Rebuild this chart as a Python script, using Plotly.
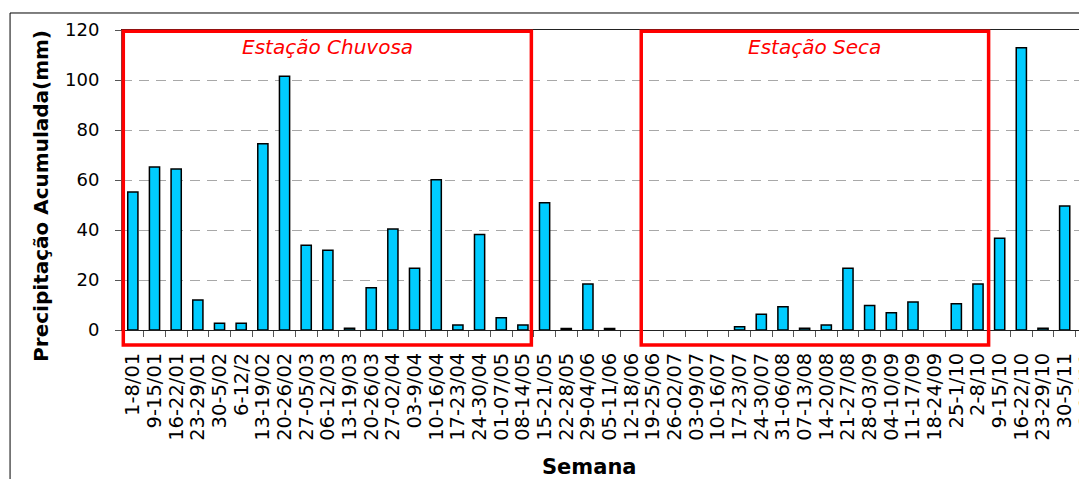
import plotly.graph_objects as go

semanas = [
    "1-8/01", "9-15/01", "16-22/01", "23-29/01", "30-5/02", "6-12/2", "13-19/02",
    "20-26/02", "27-05/03", "06-12/03", "13-19/03", "20-26/03", "27-02/04",
    "03-9/04", "10-16/04", "17-23/04", "24-30/04", "01-07/05", "08-14/05",
    "15-21/05", "22-28/05", "29-04/06", "05-11/06", "12-18/06", "19-25/06",
    "26-02/07", "03-09/07", "10-16/07", "17-23/07", "24-30/07", "31-06/08",
    "07-13/08", "14-20/08", "21-27/08", "28-03/09", "04-10/09", "11-17/09",
    "18-24/09", "25-1/10", "2-8/10", "9-15/10", "16-22/10", "23-29/10",
    "30-5/11", "6-12/11",
]
precipitacao = [
    55.2, 65.2, 64.4, 12.0, 2.7, 2.7, 74.5,
    101.5, 33.9, 31.9, 0.7, 16.9, 40.4,
    24.7, 60.1, 2.0, 38.2, 4.9, 2.0,
    50.9, 0.6, 18.4, 0.6, 0.0, 0.0,
    0.0, 0.0, 0.0, 1.3, 6.3, 9.3,
    0.7, 2.0, 24.7, 9.8, 6.9, 11.2,
    0.0, 10.5, 18.4, 36.7, 112.9, 0.7,
    49.6, 0.0,
]
estacoes = ["Estação Chuvosa", "Estação Seca"]
estacao_inicio = ["1-8/01", "19-25/06"]
estacao_fim = ["08-14/05", "2-8/10"]

XR = [-0.5, 44.03]

def px(v):
    return (v - XR[0]) / (XR[1] - XR[0])

fig = go.Figure()
fig.add_trace(go.Bar(
    x=semanas, y=precipitacao,
    marker=dict(color="#00CCFF",
                line=dict(color="black",
                          width=[1.5 if v > 0 else 0 for v in precipitacao])),
))

shapes = []
annotations = []
pads = [(-0.44, 0.39), (-0.54, 0.49)]
for nome, ini, fim, (p0, p1) in zip(estacoes, estacao_inicio, estacao_fim, pads):
    i0 = semanas.index(ini) + p0
    i1 = semanas.index(fim) + p1
    shapes.append(dict(type="rect", xref="paper", yref="paper",
                       x0=px(i0), x1=px(i1), y0=-0.05, y1=0.996,
                       line=dict(color="#FF0000", width=3.5), layer="above"))
    annotations.append(dict(text=nome, xref="paper", yref="paper",
                            x=px((i0 + i1) / 2), y=0.943, showarrow=False,
                            xanchor="center", yanchor="middle",
                            font=dict(family="DejaVu Sans", size=20, color="#FF0000",
                                      style="italic")))

# outer chart frame
shapes.append(dict(type="rect", xref="paper", yref="paper",
                   x0=-0.116, x1=1.3, y0=-1.0, y1=1.0567,
                   line=dict(color="black", width=1)))

annotations.append(dict(text="<b>Precipitação Acumulada(mm)</b>", xref="paper", yref="paper",
                        x=-0.084, y=0.447, textangle=-90, showarrow=False,
                        xanchor="center", yanchor="middle",
                        font=dict(family="DejaVu Sans", size=20, color="black")))
annotations.append(dict(text="<b>Semana</b>", xref="paper", yref="paper",
                        x=0.484, y=-0.457, showarrow=False,
                        xanchor="center", yanchor="middle",
                        font=dict(family="DejaVu Sans", size=21, color="black")))

fig.update_layout(
    width=1079, height=471,
    margin=dict(l=114, r=0, t=22, b=149, autoexpand=False),
    paper_bgcolor="white", plot_bgcolor="white",
    showlegend=False, bargap=0.53,
    shapes=shapes, annotations=annotations,
)
fig.update_xaxes(
    type="category", range=XR, tickson="boundaries",
    tickmode="linear", tick0=0, dtick=1,
    ticks="outside", ticklen=6, tickcolor="#555555", tickwidth=1,
    showline=True, linecolor="#222222", linewidth=1, mirror=True,
    tickangle=-90, ticklabelstandoff=14, automargin=False,
    tickfont=dict(family="DejaVu Sans", size=19.5, color="black"),
    showgrid=False,
)
fig.update_yaxes(
    range=[0, 120], dtick=20, tick0=0,
    ticks="outside", ticklen=6, tickcolor="#555555",
    showline=True, linecolor="#555555", linewidth=1,
    showgrid=True, gridcolor="#A8A8A8", griddash="10px,7px", gridwidth=1,
    zeroline=False, ticklabelstandoff=12, automargin=False,
    tickfont=dict(family="DejaVu Sans", size=18, color="black"),
)

fig.write_html("out.html")
